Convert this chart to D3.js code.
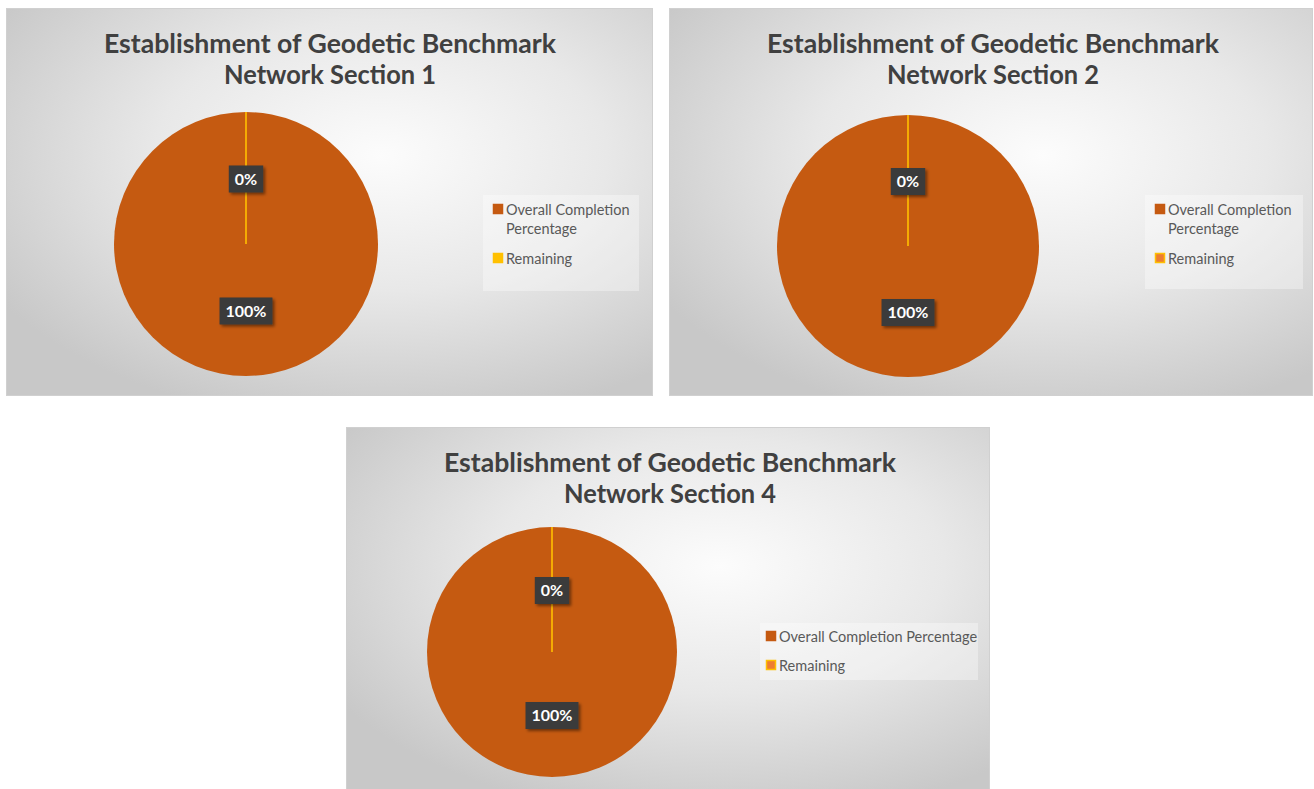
<!DOCTYPE html>
<html>
<head>
<meta charset="utf-8">
<script src="https://cdn.jsdelivr.net/npm/d3@7"></script>
<style>
  html, body { margin: 0; padding: 0; background: #fff; }
  svg { display: block; font-family: Lato, "Open Sans", sans-serif; }
</style>
</head>
<body>
<svg id="chart" width="1314" height="789"></svg>
<script>
///// 1. DATOS
const TITLE_LINE1 = 'Establishment of Geodetic Benchmark';
const TITLE_LINE2 = ['Network Section 1', 'Network Section 2', 'Network Section 4'];
const CATEGORIES  = ['Overall Completion Percentage', 'Remaining'];
const VALUES_S1   = [100, 0];
const VALUES_S2   = [100, 0];
const VALUES_S4   = [100, 0];
const LABELS      = ['100%', '0%'];

///// 2. LAYOUT (posiciones de cada panel)
const PANELS = [
  { x: 6,   y: 8,   w: 646, h: 387, cx: 246, cy: 244, r: 132,
    values: VALUES_S1, title2: TITLE_LINE2[0],
    legend: { x: 483, y: 195, w: 156, h: 96, wrap: true, pad: 10 },
    remFill: '#FFC000', remStroke: '#FFC000' },
  { x: 669, y: 8,   w: 643, h: 387, cx: 908, cy: 246, r: 131,
    values: VALUES_S2, title2: TITLE_LINE2[1],
    legend: { x: 1145, y: 195, w: 158, h: 94, wrap: true, pad: 10 },
    remFill: '#ED7D31', remStroke: '#FFC000' },
  { x: 346, y: 427, w: 643, h: 365, cx: 552, cy: 652, r: 125,
    values: VALUES_S4, title2: TITLE_LINE2[2],
    legend: { x: 760, y: 623, w: 218, h: 57, wrap: false, pad: 6 },
    remFill: '#ED7D31', remStroke: '#FFC000' }
];
const MAIN_COLOR = '#C55A11';

const svg  = d3.select('#chart');
const defs = svg.append('defs');

const bg = defs.append('radialGradient')
  .attr('id', 'bg').attr('cx', '58%').attr('cy', '38%').attr('r', '70%');
bg.append('stop').attr('offset', '0%').attr('stop-color', '#fcfcfc');
bg.append('stop').attr('offset', '50%').attr('stop-color', '#e8e8e8');
bg.append('stop').attr('offset', '100%').attr('stop-color', '#c8c8c8');

const sh = defs.append('filter').attr('id', 'shadow')
  .attr('x', '-30%').attr('y', '-30%').attr('width', '170%').attr('height', '170%');
sh.append('feDropShadow').attr('dx', 2).attr('dy', 2).attr('stdDeviation', 1.6)
  .attr('flood-color', '#000').attr('flood-opacity', 0.45);

const pie = d3.pie().sort(null).value(d => d);

///// 3. DIBUJO
function drawPanel (p) {
  const g = svg.append('g');

  g.append('rect')
    .attr('x', p.x + 0.5).attr('y', p.y + 0.5)
    .attr('width', p.w).attr('height', p.h)
    .attr('fill', 'url(#bg)')
    .attr('stroke', '#d0d0d0');

  // título (dos líneas)
  [TITLE_LINE1, p.title2].forEach((t, i) => {
    g.append('text')
      .attr('x', p.x + 324)
      .attr('y', p.y + 45 + i * 31)
      .attr('text-anchor', 'middle')
      .attr('font-size', 27)
      .attr('font-weight', 700)
      .attr('fill', '#404040')
      .attr('textLength', i === 0 ? 452 : 212)
      .attr('lengthAdjust', 'spacingAndGlyphs')
      .text(t);
  });

  // pastel
  const arcs = pie(p.values);
  const arc  = d3.arc().innerRadius(0).outerRadius(p.r);
  const pg = g.append('g').attr('transform', `translate(${p.cx},${p.cy})`);

  pg.selectAll('path')
    .data(arcs)
    .join('path')
      .attr('d', arc)
      .attr('fill', (d, i) => i === 0 ? MAIN_COLOR : p.remFill)
      .attr('stroke', (d, i) => i === 0 ? 'none' : p.remStroke)
      .attr('stroke-width', 1.6);

  // etiquetas
  arcs.forEach((d, i) => {
    const [lx, ly] = arc.centroid(d);
    const lg = pg.append('g').attr('transform', `translate(${lx},${ly + 1})`);
    const box = lg.append('rect').attr('fill', '#3b3b3b').attr('filter', 'url(#shadow)');
    const t = lg.append('text')
      .attr('text-anchor', 'middle').attr('dy', '0.36em')
      .attr('font-size', 16).attr('font-weight', 700)
      .attr('fill', '#fff')
      .text(LABELS[i]);
    const bb = t.node().getBBox();
    box.attr('x', bb.x - 6).attr('y', -13.5)
       .attr('width', bb.width + 12).attr('height', 27);
  });

  // leyenda
  const L = p.legend;
  g.append('rect')
    .attr('x', L.x).attr('y', L.y).attr('width', L.w).attr('height', L.h)
    .attr('fill', '#fff').attr('fill-opacity', 0.35);

  const items = CATEGORIES.map((c, i) => ({
    lines: (L.wrap && i === 0) ? ['Overall Completion', 'Percentage'] : [c],
    fill: i === 0 ? MAIN_COLOR : p.remFill,
    stroke: i === 0 ? MAIN_COLOR : p.remStroke
  }));

  let y = L.y + (L.wrap ? 20 : 19);
  items.forEach(it => {
    g.append('rect')
      .attr('x', L.x + L.pad + 0.5).attr('y', y - 10.5)
      .attr('width', 9).attr('height', 9)
      .attr('fill', it.fill).attr('stroke', it.stroke).attr('stroke-width', 1.5);
    it.lines.forEach((ln, k) => {
      g.append('text')
        .attr('x', L.x + L.pad + 13).attr('y', y + k * 19)
        .attr('font-size', 14.5)
        .attr('fill', '#595959')
        .text(ln);
    });
    y += it.lines.length * 19 + (L.wrap ? 11 : 10);
  });
}

PANELS.forEach(drawPanel);
</script>
</body>
</html>
